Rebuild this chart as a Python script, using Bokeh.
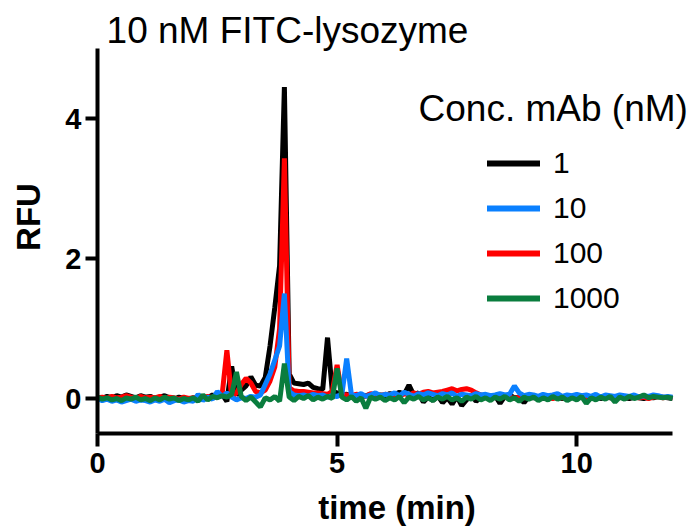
from bokeh.plotting import figure
from bokeh.models import FixedTicker, Label, Legend, LegendItem, Range1d
from bokeh.embed import file_html
from bokeh.resources import INLINE
import numpy as np

# time grid (min), 0.1 min sampling
time_min = np.round(np.arange(0, 121) * 0.1, 2)

# RFU traces
rfu_1 = [
    0.02, 0.00, 0.03, 0.01, 0.04, 0.02, 0.05, 0.03, 0.01, 0.04,
    0.02, 0.03, 0.00, 0.02, 0.04, 0.01, -0.01, 0.02, 0.00, -0.02,
    0.01, -0.01, 0.03, 0.01, 0.05, 0.02, 0.06, -0.04, 0.46, 0.05,
    0.12, 0.18, 0.31, 0.19, 0.18, 0.30, 0.75, 1.30, 1.90, 4.45,
    0.35, 0.22, 0.21, 0.20, 0.22, 0.16, 0.14, 0.13, 0.87, 0.10,
    0.08, 0.05, 0.06, 0.03, 0.05, 0.02, 0.04, 0.06, 0.03, 0.05,
    0.04, 0.07, 0.05, 0.09, 0.06, 0.19, 0.05, 0.08, -0.05, 0.02,
    -0.03, 0.04, -0.06, 0.01, -0.08, 0.03, -0.10, -0.02, 0.05, -0.04,
    0.02, 0.03, 0.01, 0.04, -0.07, 0.03, 0.05, 0.01, 0.02, -0.06,
    0.03, 0.01, 0.02, 0.00, 0.03, 0.01, 0.02, 0.00, 0.01, 0.02,
    0.01, 0.02, 0.00, 0.01, 0.03, 0.00, 0.02, 0.01, 0.00, 0.02,
    0.01, 0.00, 0.02, 0.01, 0.00, 0.02, 0.01, 0.03, 0.02, 0.01,
    0.00,
]
rfu_10 = [
    0.00, -0.03, -0.01, -0.04, -0.02, -0.05, -0.03, -0.01, -0.04, -0.02,
    -0.03, -0.05, -0.02, -0.04, -0.01, -0.06, -0.03, -0.02, -0.05, -0.03,
    -0.04, 0.06, -0.03, 0.02, -0.01, 0.10, 0.03, 0.08, 0.02, -0.02,
    0.01, 0.00, 0.03, 0.02, 0.05, 0.20, 0.35, 0.55, 0.75, 1.50,
    0.10, 0.05, 0.04, 0.05, 0.03, 0.06, 0.04, 0.05, 0.02, 0.04,
    0.03, 0.06, 0.57, 0.05, 0.04, 0.07, 0.03, 0.05, 0.08, 0.04,
    0.06, 0.05, 0.08, 0.04, 0.09, 0.06, 0.03, 0.07, 0.05, 0.08,
    0.06, 0.04, 0.07, 0.05, 0.08, 0.03, 0.06, 0.05, 0.04, 0.07,
    0.05, 0.06, 0.04, 0.05, 0.07, 0.05, 0.06, 0.18, 0.08, 0.04,
    0.06, 0.05, 0.03, 0.06, 0.04, 0.05, 0.07, 0.03, 0.05, 0.04,
    0.06, 0.04, 0.05, 0.03, 0.06, 0.02, 0.05, 0.04, 0.03, 0.05,
    0.04, 0.03, 0.05, 0.02, 0.04, 0.03, 0.05, 0.04, 0.02, 0.03,
    0.02,
]
rfu_100 = [
    0.01, 0.02, 0.00, 0.03, 0.01, 0.02, 0.04, 0.02, 0.00, 0.03,
    0.01, 0.02, 0.01, 0.03, 0.00, 0.02, 0.01, -0.01, 0.02, 0.00,
    0.01, 0.02, 0.00, 0.03, 0.01, 0.04, 0.05, 0.69, 0.02, 0.08,
    0.20, 0.29, 0.22, 0.10, 0.08, 0.12, 0.25, 0.45, 1.00, 3.43,
    0.15, 0.11, 0.10, 0.10, 0.09, 0.08, 0.08, 0.07, 0.06, 0.10,
    0.48, 0.06, 0.05, 0.04, 0.06, 0.05, 0.03, 0.07, 0.05, 0.04,
    0.06, 0.05, 0.06, 0.04, 0.07, 0.05, 0.08, 0.06, 0.09, 0.10,
    0.08, 0.09, 0.10, 0.12, 0.14, 0.11, 0.13, 0.14, 0.12, 0.08,
    0.05, 0.03, 0.02, 0.04, 0.01, 0.03, 0.02, 0.00, 0.02, 0.01,
    0.03, 0.02, 0.01, 0.03, 0.02, 0.00, 0.02, 0.01, 0.03, 0.02,
    0.01, 0.02, 0.00, 0.02, 0.01, 0.03, 0.01, 0.02, 0.00, 0.02,
    0.01, 0.03, 0.02, 0.01, 0.02, 0.00, 0.02, 0.03, 0.01, 0.02,
    0.01,
]
rfu_1000 = [
    0.02, -0.01, 0.01, -0.02, 0.00, -0.03, 0.01, -0.01, 0.02, -0.02,
    0.00, -0.03, 0.01, -0.02, 0.02, -0.01, 0.01, -0.03, 0.00, -0.02,
    0.01, -0.04, 0.05, -0.02, 0.03, 0.01, 0.04, 0.02, 0.06, 0.38,
    0.03, -0.03, 0.02, -0.05, -0.12, 0.01, -0.02, 0.03, -0.04, 0.50,
    0.02, -0.03, 0.03, 0.00, 0.04, -0.02, 0.02, -0.01, 0.03, 0.00,
    0.43, 0.02, -0.02, 0.03, -0.04, 0.01, -0.14, 0.02, -0.01, 0.02,
    -0.03, 0.01, -0.02, 0.03, -0.06, 0.02, -0.01, 0.03, -0.02, 0.01,
    -0.03, 0.02, -0.01, 0.03, -0.02, 0.01, -0.04, 0.02, -0.01, 0.03,
    -0.02, 0.01, -0.03, 0.02, -0.01, 0.03, -0.02, 0.01, -0.04, 0.02,
    -0.01, 0.02, -0.03, 0.01, -0.02, 0.03, -0.01, 0.02, -0.03, 0.01,
    -0.02, 0.03, -0.07, 0.01, -0.02, 0.02, -0.01, 0.03, -0.05, 0.02,
    -0.01, 0.03, 0.00, 0.02, 0.05, 0.01, 0.03, 0.02, 0.01, 0.02,
    0.00,
]

conc_labels = ["1", "10", "100", "1000"]
conc_colors = ["#000000", "#0a80ff", "#ff0000", "#0a7d3e"]
series = {"1": rfu_1, "10": rfu_10, "100": rfu_100, "1000": rfu_1000}
draw_order = ["1", "100", "10", "1000"]

x_ticks = [0, 5, 10]
y_ticks = [0, 2, 4]
x_axis_span = (0, 12)
y_axis_span = (-0.5, 5)

FONT = "Liberation Sans"

p = figure(width=696, height=531, x_range=Range1d(0, 12.5), y_range=Range1d(-0.5, 5.686),
           output_backend="svg", toolbar_location=None,
           min_border_left=97, min_border_right=0, min_border_top=0, min_border_bottom=98)
p.xgrid.visible = False
p.ygrid.visible = False
p.outline_line_color = None

for ax in (p.xaxis[0], p.yaxis[0]):
    ax.axis_line_width = 4
    ax.major_tick_line_width = 4
    ax.major_tick_in = 0
    ax.minor_tick_line_color = None
    ax.major_label_text_font = FONT
    ax.major_label_text_font_style = "bold"
    ax.major_label_text_font_size = "29px"
    ax.axis_label_text_font = FONT
    ax.axis_label_text_font_style = "bold"
    ax.axis_label_text_font_size = "33px"
    ax.axis_label_text_color = "black"
    ax.major_label_text_color = "black"

p.yaxis.ticker = FixedTicker(ticks=y_ticks)
p.xaxis.ticker = FixedTicker(ticks=x_ticks)
p.yaxis.bounds = y_axis_span
p.xaxis.bounds = x_axis_span
p.yaxis.major_tick_out = 12
p.xaxis.major_tick_out = 13
p.yaxis.major_label_standoff = 4
p.xaxis.major_label_standoff = 6
p.yaxis.axis_label = "RFU"
p.xaxis.axis_label = "time (min)"
p.yaxis.axis_label_standoff = 15
p.xaxis.axis_label_standoff = 13

color_of = dict(zip(conc_labels, conc_colors))
for lab in draw_order:
    p.line(time_min, series[lab], line_color=color_of[lab], line_width=5)

items = []
for lab in conc_labels:
    r = p.line(x=[-5, -4], y=[-5, -5], line_color=color_of[lab], line_width=6, line_cap="round")
    items.append(LegendItem(label=lab, renderers=[r]))

legend = Legend(items=items, location=(390, 118), glyph_width=53, glyph_height=30,
                label_height=30, label_standoff=13, spacing=11, padding=0, margin=0,
                border_line_color=None, background_fill_alpha=0,
                label_text_font=FONT, label_text_font_size="30px", label_text_color="black")
p.add_layout(legend)

p.add_layout(Label(x=0.19, y=5.26, text="10 nM FITC-lysozyme", text_font=FONT,
                   text_font_size="37px", text_baseline="middle", text_color="black"))
p.add_layout(Label(x=6.70, y=4.14, text="Conc. mAb (nM)", text_font=FONT,
                   text_font_size="37px", text_baseline="middle", text_color="black"))

open("out.html", "w").write(file_html(p, INLINE))
